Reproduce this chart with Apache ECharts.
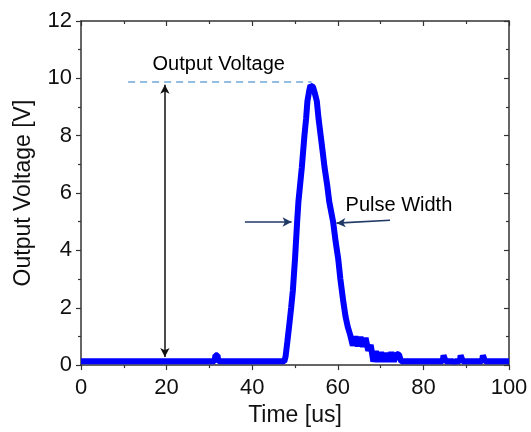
<!DOCTYPE html>
<html>
<head>
<meta charset="utf-8">
<script src="https://cdn.jsdelivr.net/npm/echarts@6/dist/echarts.min.js"></script>
<style>html,body{margin:0;padding:0;background:#fff}#c{width:531px;height:432px}</style>
</head>
<body>
<div id="c"></div>
<script>
// Time [us]
const timeUs = [0,16.5,16.7,16.9,31.2,31.4,31.9,32.1,47.5,47.8,48.2,48.7,49.1,49.5,50.0,50.5,50.8,51.2,51.6,52.2,52.6,52.9,53.3,53.6,53.9,54.2,54.6,55.1,55.5,56.0,56.5,56.9,57.5,58.0,58.9,59.5,60.1,60.6,61.3,61.8,62.3,62.9,63.5,64.1,64.7,65.3,65.9,66.5,67.1,67.7,68.3,68.9,69.5,70.1,70.7,71.3,71.9,72.5,73.1,73.7,74.3,74.8,84.5,84.7,85.0,85.2,87.0,87.2,87.4,88.5,88.7,89.0,89.2,93.7,93.9,94.2,94.4,100];
// Output Voltage [V]
const voltV = [0.13,0.13,0.08,0.13,0.13,0.34,0.34,0.13,0.13,0.3,0.8,1.45,2.0,2.6,3.7,5.0,5.7,6.3,6.9,8.0,8.6,9.2,9.55,9.75,9.8,9.7,9.5,9.2,8.6,8.0,7.4,6.9,6.3,5.7,5.0,4.3,3.7,3.0,2.2,1.7,1.35,1.05,0.68,1.0,0.66,0.98,0.64,0.95,0.5,0.7,0.12,0.48,0.12,0.45,0.12,0.42,0.12,0.45,0.12,0.4,0.36,0.13,0.13,0.34,0.34,0.13,0.13,0.06,0.13,0.13,0.34,0.34,0.13,0.13,0.34,0.34,0.13,0.13];

const xTicks = [0,20,40,60,80,100];
const yTicks = [0,2,4,6,8,10,12];

// annotations (data coordinates)
const peakLine = [[11,9.87],[53.9,9.87]];
const heightArrow = [[19.6,9.78],[19.6,0.28]];
const leftArrow = [[38.3,4.99],[49.2,4.99]];
const rightArrow = [[72.2,5.05],[59.7,4.95]];
const annoTexts = [[16.6,10.47,'Output Voltage'],[61.7,5.58,'Pulse Width']];

const pts = timeUs.map((t,i)=>[t,voltV[i]]);
const font = '"Liberation Sans", Arial, sans-serif';
const axisCol = '#333';

const chart = echarts.init(document.getElementById('c'), null, {renderer:'canvas'});
const baseX = {
  type:'value', min:xTicks[0], max:xTicks[xTicks.length-1], interval:20,
  axisLine:{show:true,onZero:false,lineStyle:{color:axisCol,width:1.5}},
  splitLine:{show:false},
  minorTick:{show:true,splitNumber:2,length:3,lineStyle:{color:axisCol,width:1.2}},
};
const baseY = {
  type:'value', min:yTicks[0], max:yTicks[yTicks.length-1], interval:2,
  axisLine:{show:true,onZero:false,lineStyle:{color:axisCol,width:1.5}},
  splitLine:{show:false},
  minorTick:{show:true,splitNumber:2,length:3,lineStyle:{color:axisCol,width:1.2}},
};
chart.setOption({
  animation:false,
  backgroundColor:'#fff',
  grid:{left:81,right:22,top:21,bottom:64},
  xAxis:[
    Object.assign({},baseX,{position:'bottom',
      axisTick:{show:true,inside:false,length:5,lineStyle:{color:axisCol,width:1.2}},
      axisLabel:{fontSize:22,color:'#111',fontFamily:font,margin:12},
      name:'Time [us]',nameLocation:'middle',nameGap:30,
      nameTextStyle:{fontSize:23,color:'#111',fontFamily:font}}),
    Object.assign({},baseX,{position:'top',
      axisTick:{show:true,inside:true,length:5,lineStyle:{color:axisCol,width:1.2}},
      axisLabel:{show:false}})
  ],
  yAxis:[
    Object.assign({},baseY,{position:'left',
      axisTick:{show:true,inside:false,length:5,lineStyle:{color:axisCol,width:1.2}},
      axisLabel:{fontSize:22,color:'#111',fontFamily:font,margin:9},
      name:'Output Voltage [V]',nameLocation:'middle',nameGap:46,
      nameTextStyle:{fontSize:23,color:'#111',fontFamily:font}}),
    Object.assign({},baseY,{position:'right',
      axisTick:{show:true,inside:true,length:5,lineStyle:{color:axisCol,width:1.2}},
      axisLabel:{show:false}})
  ],
  series:[
    {
      type:'line', xAxisIndex:0, yAxisIndex:0, data:pts, showSymbol:false, symbol:'none',
      lineStyle:{color:'#0000ff',width:6,join:'bevel'},
      markLine:{
        silent:true, animation:false, label:{show:false}, symbolSize:[7,9],
        data:[
          [{coord:peakLine[0],symbol:'none',lineStyle:{color:'#6fa8dc',type:[7,5],width:1.6}},
           {coord:peakLine[1],symbol:'none'}],
          [{coord:heightArrow[0],symbol:'arrow',lineStyle:{color:'#111',type:'solid',width:1.5}},
           {coord:heightArrow[1],symbol:'arrow'}],
          [{coord:leftArrow[0],symbol:'none',lineStyle:{color:'#1f3864',type:'solid',width:1.6}},
           {coord:leftArrow[1],symbol:'arrow'}],
          [{coord:rightArrow[0],symbol:'none',lineStyle:{color:'#1f3864',type:'solid',width:1.6}},
           {coord:rightArrow[1],symbol:'arrow'}]
        ]
      }
    },
    {
      type:'scatter', xAxisIndex:0, yAxisIndex:0, symbolSize:1,
      itemStyle:{color:'transparent',opacity:1}, silent:true,
      data:annoTexts.map(a=>({value:[a[0],a[1]],name:a[2]})),
      label:{show:true,position:'right',distance:0,formatter:p=>p.name,
        fontSize:20,color:'#000',opacity:1,fontFamily:font}
    }
  ]
});
</script>
</body>
</html>
